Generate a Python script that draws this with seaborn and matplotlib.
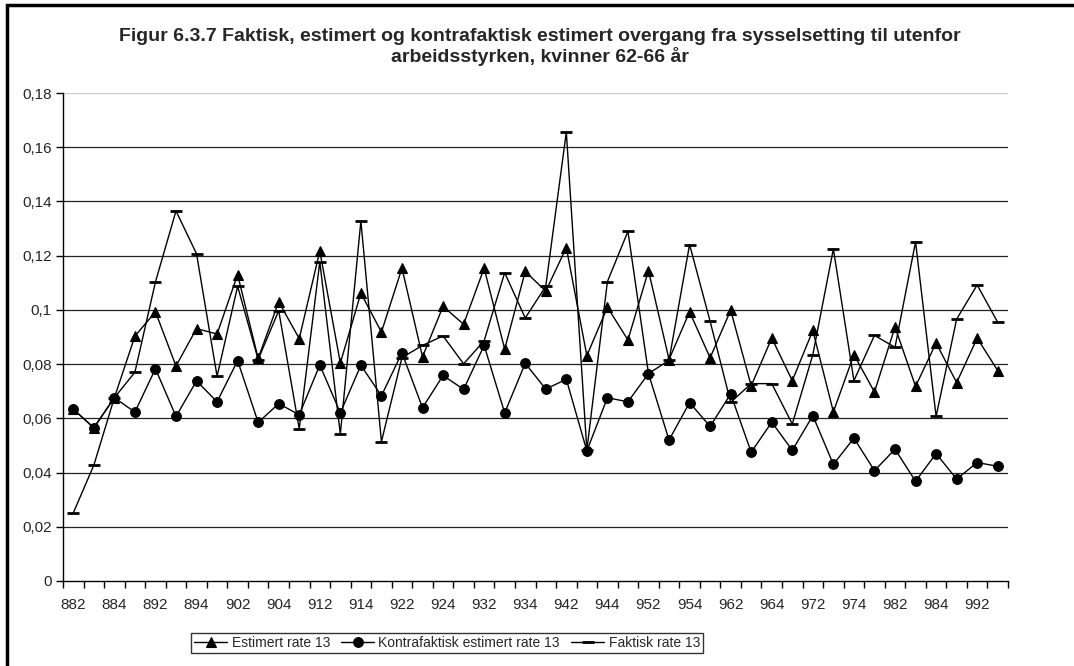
import numpy as np
import pandas as pd
import seaborn as sns
import matplotlib.pyplot as plt
from matplotlib.patches import Rectangle
from matplotlib.ticker import FixedLocator, FuncFormatter

# kvartaler: aar (2 siffer) + kvartal
periods = ['882', '883', '884',
           '891', '892', '893', '894', '901', '902', '903', '904',
           '911', '912', '913', '914', '921', '922', '923', '924',
           '931', '932', '933', '934', '941', '942', '943', '944',
           '951', '952', '953', '954', '961', '962', '963', '964',
           '971', '972', '973', '974', '981', '982', '983', '984',
           '991', '992', '993']

estimert = [0.0634, 0.0565, 0.0676, 0.0903, 0.0993, 0.0793, 0.0931, 0.0911, 0.1130, 0.0821,
            0.1030, 0.0894, 0.1217, 0.0804, 0.1062, 0.0918, 0.1154, 0.0827, 0.1013, 0.0947,
            0.1154, 0.0855, 0.1142, 0.1069, 0.1230, 0.0831, 0.1010, 0.0889, 0.1145, 0.0817,
            0.0993, 0.0823, 0.0999, 0.0720, 0.0896, 0.0739, 0.0924, 0.0624, 0.0835, 0.0697,
            0.0937, 0.0718, 0.0878, 0.0732, 0.0896, 0.0776]

kontrafaktisk = [0.0634, 0.0565, 0.0676, 0.0623, 0.0783, 0.0607, 0.0738, 0.0661, 0.0813, 0.0585,
                 0.0654, 0.0613, 0.0797, 0.0620, 0.0796, 0.0683, 0.0842, 0.0639, 0.0758, 0.0707,
                 0.0869, 0.0620, 0.0803, 0.0708, 0.0744, 0.0480, 0.0676, 0.0661, 0.0765, 0.0520,
                 0.0658, 0.0570, 0.0690, 0.0475, 0.0586, 0.0482, 0.0610, 0.0430, 0.0527, 0.0407,
                 0.0486, 0.0368, 0.0470, 0.0376, 0.0437, 0.0423]

faktisk = [0.0251, 0.0427, 0.0676, 0.0770, 0.1103, 0.1365, 0.1207, 0.0755, 0.1087, 0.0817,
           0.0997, 0.0561, 0.1177, 0.0542, 0.1328, 0.0514, 0.0824, 0.0869, 0.0904, 0.0801,
           0.0886, 0.1137, 0.0970, 0.1087, 0.1656, 0.0483, 0.1104, 0.1290, 0.0765, 0.0814,
           0.1241, 0.0958, 0.0659, 0.0728, 0.0728, 0.0579, 0.0835, 0.1225, 0.0739, 0.0906,
           0.0862, 0.1251, 0.0607, 0.0966, 0.1092, 0.0954]

series = ['Estimert rate 13', 'Kontrafaktisk estimert rate 13', 'Faktisk rate 13']

sns.set_style('white')
plt.rcParams['font.family'] = ['Liberation Sans', 'DejaVu Sans']

W, H = 1074, 666
fig = plt.figure(figsize=(W / 100, H / 100), dpi=100)
left, right, top, bottom = 63, 1008, 93, 581
ax = fig.add_axes([left / W, 1 - bottom / H, (right - left) / W, (bottom - top) / H])

# ramme rundt hele figuren (kun venstre/topp synlig)
fig.patches.append(Rectangle((7 / W, -0.1), 1.2, 1.1 - 5.5 / H, transform=fig.transFigure,
                             fill=False, edgecolor='black', linewidth=2.5, zorder=10))

df = pd.DataFrame({
    'pos': np.tile(np.arange(len(periods)), 3),
    'verdi': estimert + kontrafaktisk + faktisk,
    'serie': np.repeat(series, len(periods)),
})

markers = {series[0]: '^', series[1]: 'o', series[2]: '_'}
sizes = {series[0]: 7.5, series[1]: 7, series[2]: 9}
for s in series:
    sub = df[df['serie'] == s]
    sns.lineplot(data=sub, x='pos', y='verdi', ax=ax, color='black', linewidth=1,
                 marker=markers[s], markersize=sizes[s], markeredgewidth=2 if s == series[2] else 0.8,
                 markeredgecolor='black', label=s, zorder=3)

ax.set_xlim(-0.5, len(periods) - 0.5)
ax.set_ylim(0, 0.18)

# gitterlinjer
for v in np.arange(0.02, 0.17, 0.02):
    ax.axhline(v, color='#222222', linewidth=0.9, zorder=1)
ax.axhline(0.18, color='#cccccc', linewidth=0.9, zorder=1)

for sp in ['top', 'right']:
    ax.spines[sp].set_visible(False)
for sp in ['left', 'bottom']:
    ax.spines[sp].set_color('black')
    ax.spines[sp].set_linewidth(1)

ax.yaxis.set_major_locator(FixedLocator(np.arange(0, 0.181, 0.02)))
ax.yaxis.set_major_formatter(FuncFormatter(lambda v, p: f'{round(v, 2):g}'.replace('.', ',')))
ax.tick_params(axis='y', direction='out', length=5, width=1, color='black', labelsize=11, pad=3, left=True)

ax.xaxis.set_major_locator(FixedLocator(np.arange(-0.5, len(periods), 1.0)))
ax.xaxis.set_major_formatter(FuncFormatter(lambda v, p: ''))
ax.xaxis.set_minor_locator(FixedLocator(np.arange(0, len(periods), 2)))
ax.set_xticklabels(periods[::2], minor=True)
ax.tick_params(axis='x', which='major', direction='out', length=5, width=1, color='black', bottom=True)
ax.tick_params(axis='x', which='minor', length=0, labelsize=11, pad=12, bottom=True)

ax.set_xlabel('')
ax.set_ylabel('')

fig.text(540 / W, 1 - 47 / H,
         'Figur 6.3.7 Faktisk, estimert og kontrafaktisk estimert overgang fra sysselsetting til utenfor\narbeidsstyrken, kvinner 62-66 år',
         ha='center', va='center', fontsize=14, fontweight='bold', linespacing=1.1)

ax.get_legend().remove()
handles, labels = ax.get_legend_handles_labels()
leg = fig.legend(handles, labels, loc='center', ncol=3, bbox_to_anchor=(447 / W, 1 - 643 / H),
                 frameon=True, fancybox=False, edgecolor='black', fontsize=10,
                 handlelength=2.4, handletextpad=0.3, columnspacing=0.8, borderpad=0.25,
                 borderaxespad=0)
leg.get_frame().set_linewidth(1)

fig.savefig('out.png', dpi=100)
